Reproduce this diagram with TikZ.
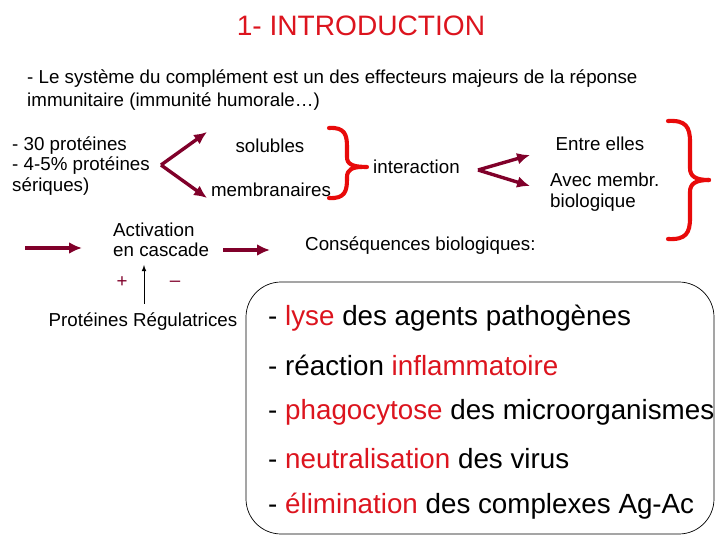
\documentclass[tikz,border=0pt]{standalone}
\usepackage{fontspec}
\setmainfont{Liberation Sans}
\usetikzlibrary{positioning,calc,arrows.meta}
\definecolor{darkarrow}{RGB}{128,0,42}
\definecolor{bracered}{RGB}{232,10,10}
\definecolor{hilite}{RGB}{220,20,30}
\tikzstyle{txt}=[inner sep=0pt, font=\fontsize{16}{17.5}\selectfont]
\tikzstyle{big}=[inner sep=0pt, anchor=west, font=\fontsize{23.7}{26}\selectfont]
\tikzset{flow/.style={-{Latex[length=11pt,width=10pt]}, line width=2.9pt, color=darkarrow}}
\tikzset{brace/.style={line width=3.5pt, color=bracered, line cap=round}}
\tikzset{y=-0.03cm}
\tikzset{x=0.03cm}
\begin{document}
\begin{tikzpicture}
  \useasboundingbox (0,0) rectangle (720,540);
  \draw (361,26) node[text=hilite, font=\fontsize{24}{28}\selectfont] (title) {1- INTRODUCTION};
  \draw (27,90) node[txt, anchor=west, align=left, font=\fontsize{16}{19.6}\selectfont] (intro) {- Le système du complément est un des effecteurs majeurs de la réponse\\immunitaire (immunité humorale…)};

  %% proteins
  \draw (12,166) node[txt, anchor=west, align=left] (prot) {- 30 protéines\\- 4-5\% protéines\\sériques)};
  \draw (270,146) node[txt] (sol) {solubles};
  \draw (271,190) node[txt] (memb) {membranaires};
  \coordinate (fork1) at (161,165);
  \coordinate (tipsol) at (207,132);
  \coordinate (tipmemb) at (207,198);
  \draw[flow] (fork1) -- (tipsol);
  \draw[flow] (fork1) -- (tipmemb);

  \draw[brace] (329,128) .. controls (345,127) and (347,135) .. (347,147) -- (347,157)
    .. controls (347,164) and (352,167) .. (367,167);
  \draw[brace] (329,198) .. controls (345,199) and (347,191) .. (347,179) -- (347,177)
    .. controls (347,170) and (352,167) .. (362,167);

  \draw (373,167) node[txt, anchor=west] (inter) {interaction};
  \coordinate (fork2) at (478,170);
  \coordinate (tipentre) at (530,155);
  \coordinate (tipavec) at (530,186);
  \draw[flow] (fork2) -- (tipentre);
  \draw[flow] (fork2) -- (tipavec);
  \draw (600,144) node[txt] (entre) {Entre elles};
  \draw (550,192) node[txt, anchor=west, align=left] (avec) {Avec membr.\\biologique};

  \draw[brace] (668,121) .. controls (686,120) and (690,127) .. (690,142) -- (690,168)
    .. controls (690,176) and (695,180) .. (709,180);
  \draw[brace] (668,239) .. controls (686,240) and (690,233) .. (690,218) -- (690,192)
    .. controls (690,184) and (695,180) .. (709,180);

  %% cascade
  \coordinate (start) at (25,248);
  \draw (113,240) node[txt, anchor=west, align=left] (casc) {Activation\\en cascade};
  \draw[flow] (start) -- (82,248);
  \coordinate (tipcons) at (270,250);
  \draw[flow] (223,250) -- (tipcons);
  \draw (305,246) node[txt, anchor=west] (cons) {Conséquences biologiques:};

  %% regulation
  \draw (143,322) node[txt] (reg) {Protéines Régulatrices};
  \coordinate (regtop) at (144,304);
  \coordinate (casctip) at (144,265);
  \draw[-latex, line width=0.8pt] (regtop) -- (casctip);
  \draw (122,282) node[txt, text=darkarrow] (plus) {+};
  \draw (175,284) node[txt, text=darkarrow] (minus) {–};

  %% effects
  \draw[rounded corners=30, line width=0.6pt] (246,282) rectangle (714,534);
  \draw (268,318) node[big] (e1) {- \textcolor{hilite}{lyse} des agents pathogènes};
  \draw (268,365) node[big] (e2) {- réaction \textcolor{hilite}{inflammatoire}};
  \draw (268,412) node[big] (e3) {- \textcolor{hilite}{phagocytose} des microorganismes};
  \draw (268,459) node[big] (e4) {- \textcolor{hilite}{neutralisation} des virus};
  \draw (268,506) node[big] (e5) {- \textcolor{hilite}{élimination} des complexes Ag-Ac};
\end{tikzpicture}
\end{document}
